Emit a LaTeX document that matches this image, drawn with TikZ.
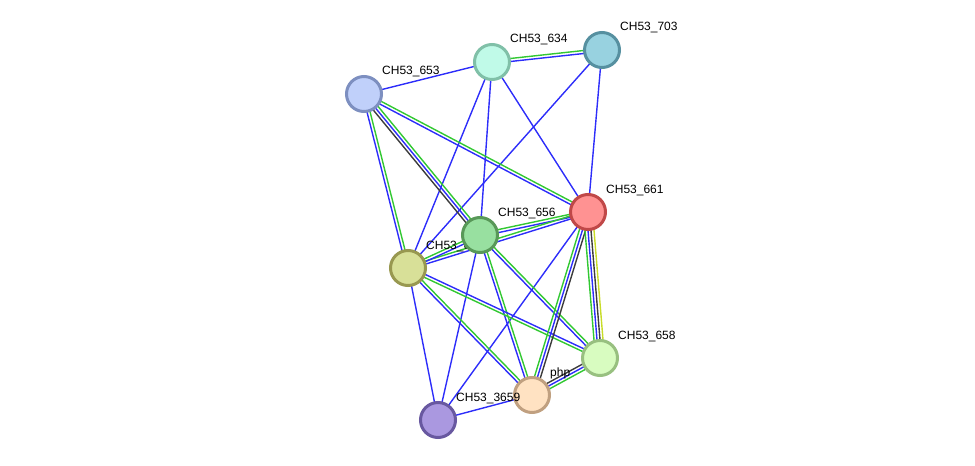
\documentclass[tikz,border=0pt]{standalone}
\usepackage{fontspec}
\setmainfont{Liberation Sans}
\usetikzlibrary{calc}

\pgfdeclarelayer{edges}
\pgfsetlayers{edges,main}

\definecolor{cooc}{RGB}{45,45,250}
\definecolor{nbhd}{RGB}{50,200,50}
\definecolor{coex}{RGB}{60,60,60}
\definecolor{tmin}{RGB}{200,220,40}

\tikzset{
	gene/.style={circle, minimum size=35pt, inner sep=0pt, line width=3pt},
	lbl/.style={inner sep=0pt, label distance=0pt, xshift=-1pt, yshift=22pt,
		font=\fontsize{12}{14}\selectfont},
	evid/.style={line width=1.4pt},
}

% parallel evidence lines between two genes
\newcommand\bundle[3]{%
	\foreach \col [count=\i] in {#3} {\xdef\nlines{\i}}
	\foreach \col [count=\i] in {#3} {
		\pgfmathsetmacro\off{((\nlines+1)/2-\i)*3}
		\draw[evid,\col] ($(#1)!\off pt!90:(#2)$) -- ($(#2)!\off pt!-90:(#1)$);
	}
}

\begin{document}
\begin{tikzpicture}[x=1pt,y=-1pt]
	\useasboundingbox (0,0) rectangle (975,466);
	% genes
	\node[gene, fill={rgb,255:red,192;green,208;blue,250}, draw={rgb,255:red,125;green,143;blue,192},
		label={[lbl]0:CH53\_653}] (g653) at (364,94) {};
	\node[gene, fill={rgb,255:red,192;green,250;blue,232}, draw={rgb,255:red,128;green,192;blue,168},
		label={[lbl]0:CH53\_634}] (g634) at (492,62) {};
	\node[gene, fill={rgb,255:red,152;green,210;blue,224}, draw={rgb,255:red,86;green,144;blue,160},
		label={[lbl]0:CH53\_703}] (g703) at (602,50) {};
	\node[gene, fill={rgb,255:red,255;green,146;blue,146}, draw={rgb,255:red,192;green,72;blue,72},
		label={[lbl]0:CH53\_661}] (g661) at (588,212) {};
	\node[gene, fill={rgb,255:red,216;green,224;blue,152}, draw={rgb,255:red,152;green,152;blue,80},
		label={[lbl]0:CH53\_655}] (g655) at (408,268) {};
	\node[gene, fill={rgb,255:red,152;green,224;blue,160}, draw={rgb,255:red,88;green,152;blue,88},
		label={[lbl]0:CH53\_656}] (g656) at (480,235) {};
	\node[gene, fill={rgb,255:red,216;green,252;blue,192}, draw={rgb,255:red,152;green,192;blue,128},
		label={[lbl]0:CH53\_658}] (g658) at (600,358) {};
	\node[gene, fill={rgb,255:red,255;green,226;blue,194}, draw={rgb,255:red,192;green,160;blue,128},
		label={[lbl]0:php}] (php) at (532,395) {};
	\node[gene, fill={rgb,255:red,170;green,152;blue,224}, draw={rgb,255:red,104;green,88;blue,160},
		label={[lbl]0:CH53\_3659}] (g3659) at (438,420) {};

	\begin{pgfonlayer}{edges}
	% single evidence
	\bundle{g653}{g634}{cooc}
	\bundle{g634}{g655}{cooc}
	\bundle{g634}{g656}{cooc}
	\bundle{g634}{g661}{cooc}
	\bundle{g703}{g661}{cooc}
	\bundle{g703}{g655}{cooc}
	\bundle{g3659}{g655}{cooc}
	\bundle{g3659}{g656}{cooc}
	\bundle{g3659}{g661}{cooc}
	\bundle{g3659}{php}{cooc}
	% two kinds
	\bundle{g634}{g703}{nbhd,cooc}
	\bundle{g653}{g655}{nbhd,cooc}
	\bundle{g653}{g661}{nbhd,cooc}
	\bundle{g656}{g661}{nbhd,cooc}
	\bundle{g655}{g661}{nbhd,cooc}
	\bundle{g655}{g656}{nbhd,cooc}
	\bundle{g656}{php}{nbhd,cooc}
	\bundle{g656}{g658}{nbhd,cooc}
	\bundle{g655}{php}{nbhd,cooc}
	\bundle{g658}{g655}{nbhd,cooc}
	% more
	\bundle{g653}{g656}{nbhd,cooc,coex}
	\bundle{php}{g661}{nbhd,cooc,coex}
	\bundle{g658}{g661}{nbhd,cooc,coex,tmin}
	\bundle{g658}{php}{nbhd,cooc,coex}
	\end{pgfonlayer}
\end{tikzpicture}
\end{document}
